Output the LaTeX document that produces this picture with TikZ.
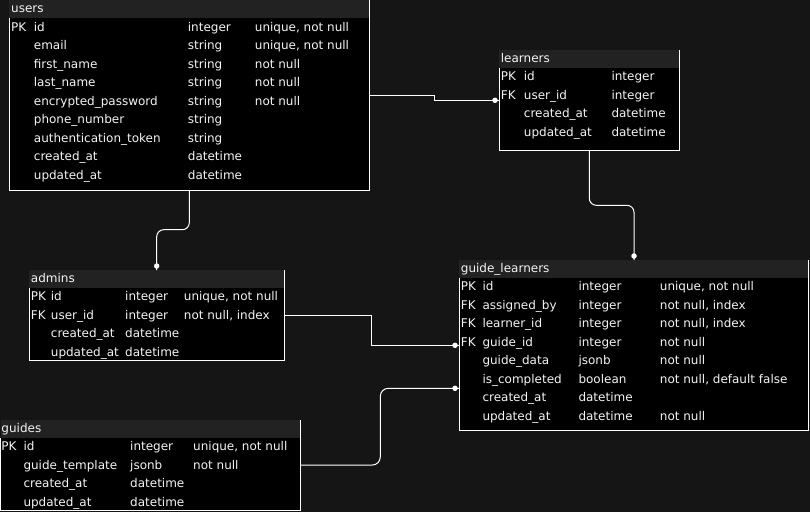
\documentclass[tikz,border=0pt]{standalone}
\usepackage{fontspec}
\setmainfont{DejaVu Sans}
\usetikzlibrary{calc}
\definecolor{bgc}{HTML}{151515}
\definecolor{hdc}{HTML}{222222}
\definecolor{txc}{HTML}{F4F4F4}
\newcommand\dbtable[6]{% name, x0, y0, x1, y1, header bottom
  \fill[hdc] (#2,#3) rectangle (#4,#6);
  \fill[black] (#2,#6) rectangle (#4,#5);
  \draw[white, line width=1pt] (#2,#6) -- (#2,#5) -- (#4,#5) -- (#4,#3);
  \node[inner sep=0pt, outer sep=0pt, minimum width=#4-#2, minimum height=#5-#3, anchor=north west] (#1) at (#2,#3) {};
}
\newcommand\trow[6]{%
  \node[txt] (#1k) at (\ck,#2) {#3};
  \node[txt] (#1n) at (\cn,#2) {#4};
  \node[txt] (#1t) at (\ct,#2) {#5};
  \node[txt] (#1c) at (\cc,#2) {#6};}
\begin{document}
\begin{tikzpicture}[x=1pt,y=-1pt, font=\fontsize{12}{14}\selectfont,
  txt/.style={anchor=base west, inner sep=0pt, text=txc},
  conn/.style={draw=white, line width=1pt},
  enddot/.style={fill=white, draw=none, circle, inner sep=0pt, minimum size=5.5pt}]
\useasboundingbox (0,0) rectangle (810,512);
\fill[bgc] (0,0) rectangle (810,512);

% ---------- users
\dbtable{users}{9.3}{0}{369}{190}{18}
\node[txt] (usersh) at (11,12.5) {users};
\def\ck{11}\def\cn{33.7}\def\ct{187.7}\def\cc{254.7}
\trow{u1}{31}{PK}{id}{integer}{unique, not null}
\trow{u2}{49.5}{}{email}{string}{unique, not null}
\trow{u3}{68}{}{first\_name}{string}{not null}
\trow{u4}{86.5}{}{last\_name}{string}{not null}
\trow{u5}{105}{}{encrypted\_password}{string}{not null}
\trow{u6}{123.5}{}{phone\_number}{string}{}
\trow{u7}{142}{}{authentication\_token}{string}{}
\trow{u8}{160.5}{}{created\_at}{datetime}{}
\trow{u9}{179}{}{updated\_at}{datetime}{}

% ---------- learners
\dbtable{learners}{499}{50}{679}{150}{68}
\node[txt] (learnersh) at (500.7,62.5) {learners};
\def\ck{500.7}\def\cn{523.7}\def\ct{611.3}\def\cc{660}
\trow{l1}{80.7}{PK}{id}{integer}{}
\trow{l2}{99.2}{FK}{user\_id}{integer}{}
\trow{l3}{117.7}{}{created\_at}{datetime}{}
\trow{l4}{136.2}{}{updated\_at}{datetime}{}

% ---------- admins
\dbtable{admins}{29.3}{270}{284.3}{360}{288}
\node[txt] (adminsh) at (30.7,282.5) {admins};
\def\ck{30.7}\def\cn{50.7}\def\ct{125}\def\cc{183.7}
\trow{a1}{300.7}{PK}{id}{integer}{unique, not null}
\trow{a2}{319.2}{FK}{user\_id}{integer}{not null, index}
\trow{a3}{337.7}{}{created\_at}{datetime}{}
\trow{a4}{356.2}{}{updated\_at}{datetime}{}

% ---------- guide_learners
\dbtable{gl}{459.3}{260}{808}{430}{278}
\node[txt] (glh) at (460.7,272.5) {guide\_learners};
\def\ck{460.7}\def\cn{482.3}\def\ct{578.3}\def\cc{659.7}
\trow{g1}{290.7}{PK}{id}{integer}{unique, not null}
\trow{g2}{309.2}{FK}{assigned\_by}{integer}{not null, index}
\trow{g3}{327.7}{FK}{learner\_id}{integer}{not null, index}
\trow{g4}{346.2}{FK}{guide\_id}{integer}{not null}
\trow{g5}{364.7}{}{guide\_data}{jsonb}{not null}
\trow{g6}{383.2}{}{is\_completed}{boolean}{not null, default false}
\trow{g7}{401.7}{}{created\_at}{datetime}{}
\trow{g8}{420.2}{}{updated\_at}{datetime}{not null}

% ---------- guides
\dbtable{guides}{0.5}{420}{300}{510}{438}
\node[txt] (guidesh) at (1.3,432.5) {guides};
\def\ck{1.3}\def\cn{23.3}\def\ct{130}\def\cc{193}
\trow{d1}{450.7}{PK}{id}{integer}{unique, not null}
\trow{d2}{469.2}{}{guide\_template}{jsonb}{not null}
\trow{d3}{487.7}{}{created\_at}{datetime}{}
\trow{d4}{506.2}{}{updated\_at}{datetime}{}

% ---------- connectors
% users -> learners.user_id
\draw[conn] ($(users.north east)+(0,95.3)$) -- (434,95.3) -- (434,100.3) -- ($(learners.north west)+(0,50.3)$);
\node[enddot] (e1) at (495,100.3) {};
% users -> admins
\draw[conn, rounded corners=7pt] ($(users.south west)+(180,0)$) -- (189.3,229.7) -- (156.7,229.7) -- ($(admins.north west)+(127.4,0)$);
\node[enddot] (e2) at (156.7,266) {};
% learners -> guide_learners
\draw[conn, rounded corners=7pt] ($(learners.south west)+(90.3,0)$) -- (589.3,205.3) -- (634,205.3) -- ($(gl.north west)+(174.7,0)$);
\node[enddot] (e3) at (634,256) {};
% admins.user_id -> guide_learners
\draw[conn] ($(admins.north east)+(0,45.7)$) -- (371.7,315.7) -- (371.7,345.3) -- ($(gl.north west)+(0,85.3)$);
\node[enddot] (e4) at (455,345.3) {};
% guides -> guide_learners
\draw[conn, rounded corners=8pt] ($(guides.north east)+(0,45)$) -- (380.3,465) -- (380.3,388.3) -- ($(gl.north west)+(0,128.3)$);
\node[enddot] (e5) at (455,388.3) {};
\end{tikzpicture}
\end{document}
